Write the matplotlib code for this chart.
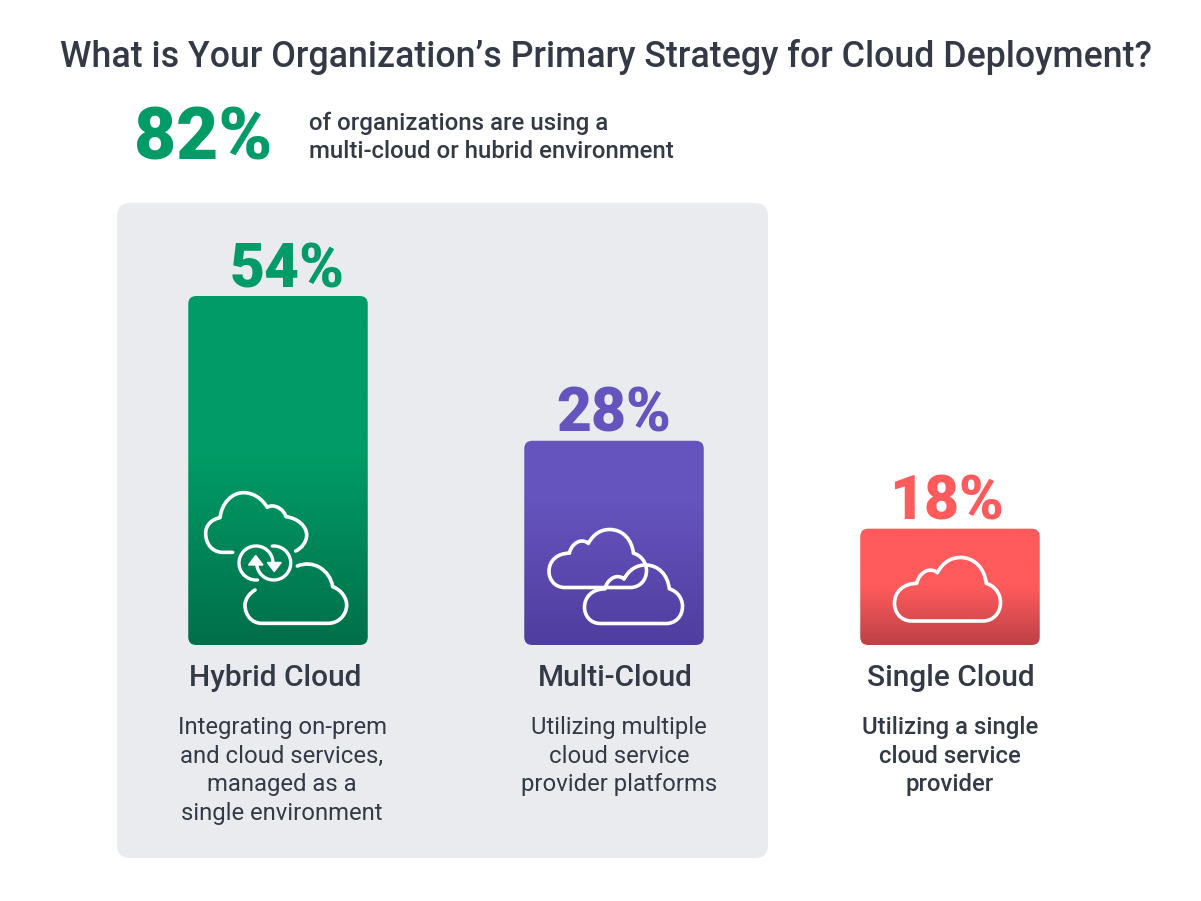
import numpy as np
import matplotlib
matplotlib.use("Agg")
import matplotlib.pyplot as plt
from matplotlib.patches import FancyBboxPatch, PathPatch, Polygon
from matplotlib.path import Path
from matplotlib.colors import LinearSegmentedColormap

W, H = 1201, 901
plt.rcParams['font.family'] = ['Roboto', 'DejaVu Sans']

TITLE = "What is Your Organization\u2019s Primary Strategy for Cloud Deployment?"
HEADLINE_VALUE = "82%"
HEADLINE_TEXT = ["of organizations are using a", "multi-cloud or hubrid environment"]

categories = ["Hybrid Cloud", "Multi-Cloud", "Single Cloud"]
value_labels = ["54%", "28%", "18%"]
bar_heights = [54.0, 31.6, 18.0]   # drawn heights, in percent units
descriptions = [
    ["Integrating on-prem", "and cloud services,", "managed as a", "single environment"],
    ["Utilizing multiple", "cloud service", "provider platforms"],
    ["Utilizing a single", "cloud service", "provider"],
]
top_colors = ["#009B66", "#6654BE", "#FF5A5C"]
bottom_colors = ["#006F4A", "#4F3D9F", "#BC4145"]
fade_starts = [0.46, 0.30, 0.50]   # fraction of height kept flat below the top
label_colors = ["#009B66", "#6654BE", "#FF5A5C"]
INK = "#343A45"

fig = plt.figure(figsize=(W / 100, H / 100), dpi=100, facecolor="white")

# pixel layer for panel
back = fig.add_axes([0, 0, 1, 1])
back.set_xlim(0, W); back.set_ylim(H, 0); back.axis("off")
back.add_patch(FancyBboxPatch((117, 203), 651, 655, boxstyle="round,pad=0,rounding_size=13",
                              fc="#E9EBEF", ec="none"))

# bar axes: x in category index, y in percent
PX_X = 336.0
PX_Y = 349.0 / 54.0
ax = fig.add_axes([0, 0, 1, 1], facecolor="none")
ax.set_xlim(-278 / PX_X, (W - 278) / PX_X)
ax.set_ylim(-(H - 645) / PX_Y, 645 / PX_Y)
ax.axis("off")
limits = ax.get_xlim(), ax.get_ylim()
BAR_W = 179.5 / PX_X
for i, h in enumerate(bar_heights):
    patch = FancyBboxPatch((i - BAR_W / 2, 0), BAR_W, h,
                           boxstyle=f"round,pad=0,rounding_size={8 / PX_X}",
                           mutation_aspect=PX_X / PX_Y, fc="none", ec="none")
    ax.add_patch(patch)
    cmap = LinearSegmentedColormap.from_list(
        "g", [(0, top_colors[i]), (fade_starts[i], top_colors[i]), (1, bottom_colors[i])])
    grad = np.linspace(0, 1, 256)[:, None]
    im = ax.imshow(grad, cmap=cmap, aspect="auto", vmin=0, vmax=1,
                   extent=(i - BAR_W / 2, i + BAR_W / 2, 0, h), origin="upper", zorder=1)
    im.set_clip_path(patch)
ax.set_xlim(limits[0]); ax.set_ylim(limits[1])

over = fig.add_axes([0, 0, 1, 1], facecolor="none")
over.set_xlim(0, W); over.set_ylim(H, 0); over.axis("off")

# cloud outline in the coordinates of the single-cloud crop
M, C, Z = Path.MOVETO, Path.CURVE4, Path.CLOSEPOLY
CLOUD = [(185, 303), (150, 303), (133, 275), (133, 250), (133, 215), (160, 190), (200, 190),
         (205, 165), (225, 150), (240, 150), (250, 150), (258, 153), (262, 158),
         (280, 125), (305, 112), (332, 112), (375, 112), (405, 145), (410, 190),
         (435, 197), (453, 220), (453, 247), (453, 280), (430, 303), (400, 303)]
CODES = [M] + [C] * 24


def draw_path(pts, codes, lw=2.6):
    over.add_patch(PathPatch(Path(pts, codes), fc="none", ec="white", lw=lw, capstyle="round",
                             joinstyle="round", zorder=5))


def cloud(left, top, width, height):
    p = np.array(CLOUD, float)
    p[:, 0] = left + (p[:, 0] - 133) / 320 * width
    p[:, 1] = top + (p[:, 1] - 112) / 191 * height
    pts = np.vstack([p, p[:1], p[:1]])
    codes = CODES + [Path.LINETO, Z]
    draw_path(pts, codes)


# single cloud
cloud(894.5, 557.5, 106, 63.5)
# multi cloud
cloud(549, 529.5, 97.5, 58)
cloud(584.5, 565, 98, 58.5)


# hybrid icon: coordinates of the crop -> pixels
def hz(pts):
    p = np.array(pts, float)
    return np.column_stack([180 + p[:, 0] / 3, 470 + p[:, 1] / 3])


draw_path(hz([(158, 247), (145, 247), (135, 247), (125, 247), (95, 245), (77, 220), (77, 190),
              (77, 165), (95, 148), (120, 143), (125, 100), (155, 68), (190, 68),
              (220, 68), (245, 85), (262, 112), (280, 100), (310, 115), (318, 140),
              (355, 145), (380, 170), (380, 195), (380, 215), (365, 235), (347, 243)]),
          [M] + [C] * 24)
draw_path(hz([(352, 288), (400, 268), (450, 300), (458, 350), (485, 360), (500, 385), (500, 405),
              (500, 435), (475, 460), (445, 460), (380, 460), (310, 460), (245, 460),
              (215, 460), (195, 435), (195, 405), (195, 388), (208, 370), (225, 360)]),
          [M] + [C] * 18)


def ring(cx, cy, r, t1, t2):
    arc = Path.arc(t1, t2)
    v = arc.vertices
    draw_path(np.column_stack([cx + r * v[:, 0], cy - r * v[:, 1]]), arc.codes, lw=2.4)


ring(256.0, 563.0, 17, 0, 275)
ring(273.7, 563.0, 17, 180, 455)
over.add_patch(Polygon([(248.5, 565), (263, 565), (255.7, 555.5)], fc="white", ec="white", lw=1, zorder=6))
over.add_patch(Polygon([(267.3, 562.5), (281.3, 562.5), (274.2, 571.5)], fc="white", ec="white", lw=1, zorder=6))

# texts
over.text(605.5, 57, TITLE, ha="center", va="center", fontsize=25.73, fontweight=500, color=INK)
over.text(203, 140, HEADLINE_VALUE, ha="center", va="center", fontsize=52.5, fontweight=900, color="#009B66")
for k, line in enumerate(HEADLINE_TEXT):
    over.text(309, 123 + 29 * k, line, ha="left", va="center", fontsize=17.25, fontweight=500, color=INK)

tops = [296, 441, 529]
value_x = [287.5, 614, 947]
name_x = [275, 615, 950.5]
desc_x = [282, 619, 950]
for i, c in enumerate(categories):
    over.text(value_x[i], tops[i] - 26, value_labels[i], ha="center", va="center", fontsize=43.6,
              fontweight=900, color=label_colors[i])
    over.text(name_x[i], 678.5, c, ha="center", va="center", fontsize=21.5, fontweight=500, color=INK)
    for k, line in enumerate(descriptions[i]):
        over.text(desc_x[i], 727.5 + 28.7 * k, line, ha="center", va="center", fontsize=17.2,
                  fontweight=500 if i == 2 else "normal", color=INK)

fig.savefig("out.png", dpi=100, facecolor="white")
